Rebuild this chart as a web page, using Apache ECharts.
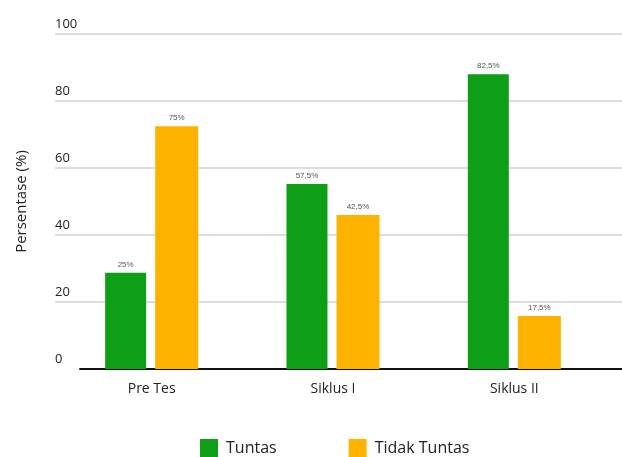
<!DOCTYPE html>
<html>
<head>
<meta charset="utf-8">
<script src="https://cdn.jsdelivr.net/npm/echarts@6/dist/echarts.min.js"></script>
<style>
  html, body { margin: 0; padding: 0; background: #fff; }
  #chart { width: 622px; height: 457px; }
</style>
</head>
<body>
<div id="chart"></div>
<script>
const categories = ['Pre Tes', 'Siklus I', 'Siklus II']
// bar heights as drawn in the picture
const tuntas = [28.7, 55.2, 88.0]
const tidakTuntas = [72.5, 46.0, 15.8]
// printed labels above the bars
const tuntasLabels = ['25%', '57,5%', '82,5%']
const tidakTuntasLabels = ['75%', '42,5%', '17,5%']
const yTicks = [0, 20, 40, 60, 80, 100]

const FONT = 'Open Sans'
const GREEN = '#0f9f16'
const ORANGE = '#ffb300'

const chart = echarts.init(document.getElementById('chart'), null, { renderer: 'canvas' })

function barLabel(texts) {
  return {
    show: true,
    position: 'top',
    distance: 4,
    fontSize: 8,
    color: '#555',
    fontFamily: 'Liberation Sans',
    formatter: (p) => texts[p.dataIndex]
  }
}

chart.setOption({
  animation: false,
  grid: [
    { left: 55, right: 0, top: 34, bottom: 88 },   // gridlines + y labels
    { left: 80, right: 0, top: 34, bottom: 88 },   // black baseline
    { left: 61, right: 17, top: 34, bottom: 88 }   // bars
  ],
  xAxis: [
    { gridIndex: 0, type: 'value', show: false },
    {
      gridIndex: 1, type: 'category', data: categories,
      axisLine: { lineStyle: { color: '#111', width: 2 } },
      axisTick: { show: false }, axisLabel: { show: false }
    },
    {
      gridIndex: 2, type: 'category', data: categories,
      axisLine: { show: false }, axisTick: { show: false },
      axisLabel: { margin: 13, fontSize: 14, color: '#222', fontFamily: FONT }
    }
  ],
  yAxis: [
    {
      gridIndex: 0, type: 'value', min: 0, max: 100, interval: 20,
      name: 'Persentase (%)', nameLocation: 'middle', nameGap: 26,
      nameTextStyle: { fontSize: 15, color: '#222', fontFamily: FONT },
      axisLine: { show: false }, axisTick: { show: false },
      axisLabel: {
        inside: true, align: 'left', verticalAlign: 'bottom', margin: 0,
        padding: [0, 0, 3, 0], fontSize: 13, color: '#222', fontFamily: FONT,
        formatter: (v) => yTicks.includes(v) ? String(v) : ''
      },
      splitLine: {
        lineStyle: { color: ['rgba(0,0,0,0)', '#d2d2d2', '#d2d2d2', '#d2d2d2', '#d2d2d2', '#d2d2d2'], width: 1.5 }
      }
    },
    { gridIndex: 1, type: 'value', min: 0, max: 100, show: false },
    { gridIndex: 2, type: 'value', min: 0, max: 100, show: false }
  ],
  legend: {
    left: 195, bottom: -5,
    itemWidth: 18, itemHeight: 18, itemGap: 72,
    icon: 'rect',
    textStyle: { fontSize: 16, color: '#222', fontFamily: FONT, padding: [5, 0, 0, 3] },
    data: ['Tuntas', 'Tidak Tuntas']
  },
  series: [
    {
      name: 'Tuntas', type: 'bar', xAxisIndex: 2, yAxisIndex: 2,
      data: tuntas, barWidth: 41, barGap: '22%',
      itemStyle: { color: GREEN },
      label: barLabel(tuntasLabels)
    },
    {
      name: 'Tidak Tuntas', type: 'bar', xAxisIndex: 2, yAxisIndex: 2,
      data: tidakTuntas, barWidth: 43,
      itemStyle: { color: ORANGE },
      label: barLabel(tidakTuntasLabels)
    }
  ]
})
</script>
</body>
</html>
